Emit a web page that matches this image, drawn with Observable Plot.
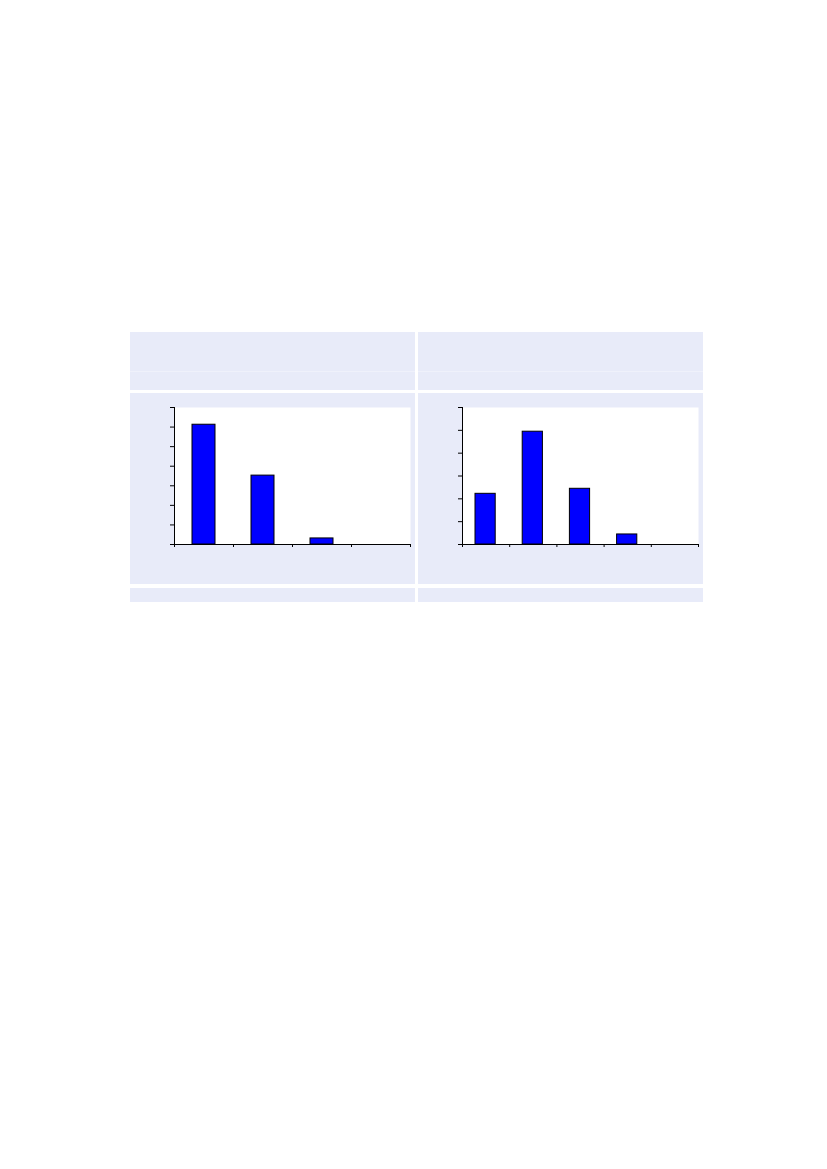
<!DOCTYPE html>
<html>
<head>
<meta charset="utf-8">
<script src="https://cdn.jsdelivr.net/npm/d3@7"></script>
<script src="https://cdn.jsdelivr.net/npm/@observablehq/plot@0.6"></script>
<style>
  html, body { margin: 0; padding: 0; background: #ffffff; }
  #page { position: relative; width: 827px; height: 1169px; background: #ffffff; font-family: "DejaVu Sans", sans-serif; }
  .band { position: absolute; background: #e8ebf9; }
  .sep { position: absolute; height: 1px; background: #eff1fb; }
  .host { position: absolute; }
  .host svg { display: block; }
</style>
</head>
<body>
<div id="page">
  <div class="band" style="left:130px;top:332px;width:285px;height:58px"></div>
  <div class="sep" style="left:130px;top:371px;width:285px"></div>
  <div class="band" style="left:130px;top:393px;width:285px;height:191px"></div>
  <div class="band" style="left:130px;top:588px;width:285px;height:14px"></div>
  <div class="band" style="left:418px;top:332px;width:285px;height:58px"></div>
  <div class="sep" style="left:418px;top:371px;width:285px"></div>
  <div class="band" style="left:418px;top:393px;width:285px;height:191px"></div>
  <div class="band" style="left:418px;top:588px;width:285px;height:14px"></div>
  <div class="host" id="left" style="left:130px;top:393px"></div>
  <div class="host" id="right" style="left:418px;top:393px"></div>
</div>
<script>
// Left panel: bin fractions (bins 0-1, 1-2, 2-3, 3-4)
const leftBins = [0, 1, 2, 3];
const leftValues = [0.612, 0.352, 0.031, 0];
const leftXTicks = [0, 1, 2, 3, 4];
const leftYTicks = [0, 0.1, 0.2, 0.3, 0.4, 0.5, 0.6, 0.7];

// Right panel: bin fractions (bins 0-1 ... 4-5)
const rightBins = [0, 1, 2, 3, 4];
const rightValues = [0.222, 0.494, 0.244, 0.044, 0];
const rightXTicks = [0, 1, 2, 3, 4, 5];
const rightYTicks = [0, 0.1, 0.2, 0.3, 0.4, 0.5, 0.6];

function panel(bins, values, xTicks, yTicks, inset) {
  const data = bins.map((b, i) => ({x1: b, x2: b + 1, y: values[i]})).filter(d => d.y > 0);
  return Plot.plot({
    width: 285,
    height: 191,
    marginLeft: 44,
    marginRight: 5,
    marginTop: 14,
    marginBottom: 40,
    style: {background: "transparent", overflow: "visible"},
    x: {domain: [xTicks[0], xTicks[xTicks.length - 1]], label: null},
    y: {domain: [yTicks[0], yTicks[yTicks.length - 1]], label: null},
    marks: [
      Plot.frame({fill: "white", stroke: null}),
      Plot.rect(data, {x1: "x1", x2: "x2", y1: 0, y2: "y", fill: "#0000ff", stroke: "black", strokeWidth: 1, insetLeft: inset[0], insetRight: inset[1]}),
      Plot.axisX({ticks: xTicks, tickSize: 3, tickFormat: () => "", label: null, stroke: "black"}),
      Plot.axisY({ticks: yTicks, tickSize: 4, tickFormat: () => "", label: null, stroke: "black"}),
      Plot.ruleX([xTicks[0]], {stroke: "black"}),
      Plot.ruleY([yTicks[0]], {stroke: "black"})
    ]
  });
}

document.getElementById("left").appendChild(panel(leftBins, leftValues, leftXTicks, leftYTicks, [18, 18]));
document.getElementById("right").appendChild(panel(rightBins, rightValues, rightXTicks, rightYTicks, [13, 14]));
</script>
</body>
</html>
